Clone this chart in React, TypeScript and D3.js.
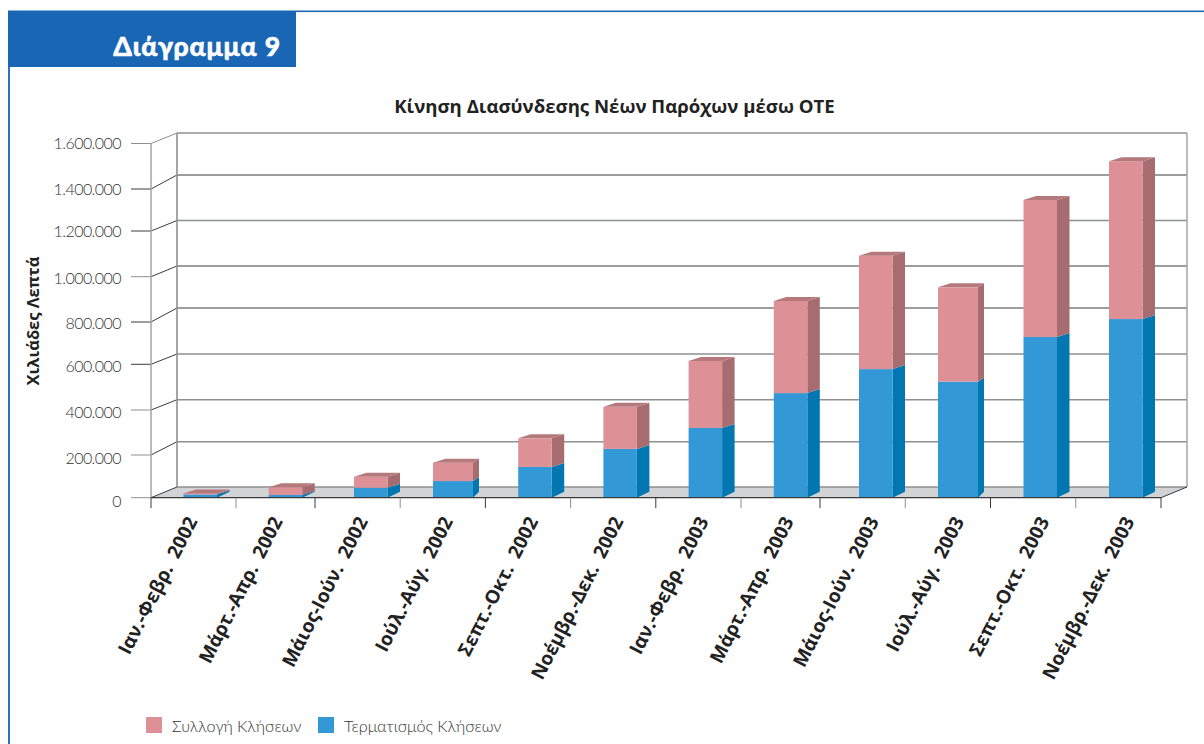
import React from 'react';
import * as d3 from 'd3';

// ---- data ----
const categories = [
  'Ιαν.-Φεβρ.  2002', 'Μάρτ.-Απρ.  2002', 'Μάιος-Ιούν.  2002', 'Ιούλ.-Αύγ.  2002',
  'Σεπτ.-Οκτ.  2002', 'Νοέμβρ.-Δεκ.  2002', 'Ιαν.-Φεβρ.  2003', 'Μάρτ.-Απρ.  2003',
  'Μάιος-Ιούν.  2003', 'Ιούλ.-Αύγ.  2003', 'Σεπτ.-Οκτ.  2003', 'Νοέμβρ.-Δεκ.  2003',
];
const termination = [15000, 13000, 47000, 78000, 144000, 227000, 320000, 474000, 579000, 524000, 729000, 813000];
const origination = [5000, 36000, 51000, 86000, 130000, 187000, 296000, 419000, 513000, 429000, 619000, 709000];
const yTicks = [0, 200000, 400000, 600000, 800000, 1000000, 1200000, 1400000, 1600000];
const yTickLabels = ['0', '200.000', '400.000', '600.000', '800.000', '1.000.000', '1.200.000', '1.400.000', '1.600.000'];
const seriesNames = ['Συλλογή Κλήσεων', 'Τερματισμός Κλήσεων'];
const chartTitle = 'Κίνηση Διασύνδεσης Νέων Παρόχων μέσω ΟΤΕ';
const yAxisTitle = 'Χιλιάδες Λεπτά';
const panelTitle = 'Διάγραμμα 9';

// ---- layout ----
const FONT = "Lato, 'Open Sans', sans-serif";
const BOLD = "'Open Sans', Lato, sans-serif";
const yFront = d3.scaleLinear().domain(yTicks)
  .range([497.7, 455, 410, 364.3, 322, 276.7, 231, 189, 143.5]);
const yBack = d3.scaleLinear().domain(yTicks)
  .range([487, 441.7, 399.7, 354, 308, 266, 220.5, 175, 133]);
const labelOffset = d3.scaleLinear().domain([0, 1600000]).range([9, 5.5]);
const xTick = d3.scaleLinear().domain([0, 1, 2, 7, 8, 12]).range([151, 236, 315, 741, 820, 1161]);
const xBar = d3.scaleLinear().domain([0, 2, 3, 8, 9, 11]).range([183.5, 354, 433, 859, 938, 1109]);
const xLabel = d3.scaleLinear().domain([0, 11]).range([198, 1135]);
const wideBars = [3, 9];
const barW = (i: number) => (wideBars.includes(i) ? 40 : 33.5);
const sideW = (i: number) => (wideBars.includes(i) ? 6 : 12.5);
const depthX = 26;
const depthY = (v: number) => (v === 0 ? 6 : 4);
const darkGrid = [1000000, 800000, 1400000];
const darkTick = [1400000, 1200000, 800000, 600000];
const GREY = '#8d8f91';
const DARK = '#3a3a3c';

const stacked = d3.stack<number>()
  .keys(['t', 'o'])
  .value((i, k) => (k === 't' ? termination[i] : origination[i]))(d3.range(categories.length));
const palette = [
  { front: '#3399d6', side: '#0077b0', top: '#3399d6' },
  { front: '#dd9197', side: '#a66c6f', top: '#b5797b' },
];
const poly = (pts: number[][]) => pts.map((p) => p.join(',')).join(' ');

export default function App() {
  const xL = xTick(0), xR = xTick(12);
  const y0 = yFront(0), yb0 = yBack(0);
  return (
    <svg width={1204} height={744} style={{ position: 'absolute', left: 0, top: 0, background: '#fff' }} fontFamily={FONT}>
      {/* frame */}
      <rect x={8} y={10.5} width={1196} height={1.6} fill="#1866b4" />
      <rect x={8} y={11} width={2} height={733} fill="#2a72bc" />
      <rect x={8} y={11} width={288} height={56} fill="#1866b4" />
      <text x={281} y={56} textAnchor="end" fontSize={26.5} fontWeight={900} fill="#fff" stroke="#fff" strokeWidth={0.5} letterSpacing={0.9}>{panelTitle}</text>

      <text x={614.5} y={113} textAnchor="middle" fontFamily={BOLD} fontSize={18.6} fontWeight={700} fill="#222">{chartTitle}</text>
      <text transform="translate(39,321) rotate(-90)" textAnchor="middle" fontFamily={BOLD} fontSize={16.5} fontWeight={700} fill="#222">{yAxisTitle}</text>

      {/* floor */}
      <polygon points={poly([[xL, y0], [xL + depthX, yb0], [xR + depthX, yb0], [xR, y0]])} fill="#d1d3d4" />

      {/* walls and grid */}
      {yTicks.map((t, i) => {
        const dark = darkGrid.includes(t);
        const tickDark = darkTick.includes(t);
        return (
          <g key={t}>
            <line x1={xL + depthX} x2={xR + depthX} y1={yBack(t)} y2={yBack(t)} stroke={dark ? DARK : GREY} strokeWidth={dark ? 1 : 1.4} />
            <line x1={xL} x2={xL + depthX} y1={yFront(t)} y2={yBack(t)} stroke={t === 1600000 ? GREY : DARK} strokeWidth={1} />
            <line x1={131} x2={xL} y1={yFront(t)} y2={yFront(t)} stroke={tickDark ? DARK : GREY} strokeWidth={1} />
            <text x={121} y={yFront(t) + labelOffset(t)} textAnchor="end" fontSize={16} fontWeight={300} letterSpacing={-0.55} fill="#333">{yTickLabels[i]}</text>
          </g>
        );
      })}
      <line x1={xL} x2={xL} y1={yFront(1600000)} y2={y0} stroke="#a3a5a7" strokeWidth={1.5} />
      <line x1={xL + depthX} x2={xL + depthX} y1={yBack(1600000)} y2={yb0} stroke={GREY} strokeWidth={1.6} />
      <line x1={xR + depthX} x2={xR + depthX} y1={yBack(1600000)} y2={yb0} stroke="#a3a5a7" strokeWidth={1.5} />

      {/* bars */}
      {categories.map((_, i) => {
        const x = xBar(i), w = barW(i), s = sideW(i);
        return (
          <g key={i}>
            {stacked.map((ser, si) => {
              const yTop = yFront(ser[i][1]), yBot = yFront(ser[i][0]);
              const c = palette[si];
              return (
                <g key={si}>
                  <polygon points={poly([[x + w, yBot], [x + w + s, yBot - depthY(ser[i][0])], [x + w + s, yTop - depthY(ser[i][1])], [x + w, yTop]])} fill={c.side} />
                  <rect x={x} y={yTop} width={w} height={yBot - yTop} fill={c.front} />
                </g>
              );
            })}
            {(() => {
              const v = stacked[1][i][1];
              const yTop = yFront(v);
              return <polygon points={poly([[x, yTop], [x + 12.5, yTop - depthY(v)], [x + w + s, yTop - depthY(v)], [x + w, yTop]])} fill={palette[1].top} />;
            })()}
          </g>
        );
      })}

      {/* category axis */}
      <line x1={xL} x2={xR} y1={y0} y2={y0} stroke={DARK} strokeWidth={1.2} />
      <line x1={xR} x2={xR + depthX} y1={y0} y2={yb0} stroke={DARK} strokeWidth={1} />
      {d3.range(categories.length + 1).map((i) => (
        <line key={i} x1={xTick(i)} x2={xTick(i)} y1={y0} y2={y0 + 10.5} stroke={i % 2 ? GREY : DARK} strokeWidth={1} />
      ))}
      {categories.map((c, i) => (
        <text key={c} transform={`translate(${xLabel(i)},${521}) rotate(-63)`} textAnchor="end"
          fontFamily={BOLD} fontSize={19} fontWeight={700} fill="#222" style={{ whiteSpace: 'pre' }}>{c}</text>
      ))}

      {/* legend */}
      <rect x={146} y={717} width={16} height={16} fill={palette[1].front} />
      <text x={172} y={732} fontSize={16.2} fontWeight={300} fill="#333">{seriesNames[0]}</text>
      <rect x={318} y={717} width={16} height={16} fill={palette[0].front} />
      <text x={344} y={732} fontSize={16.2} fontWeight={300} fill="#333">{seriesNames[1]}</text>
    </svg>
  );
}
